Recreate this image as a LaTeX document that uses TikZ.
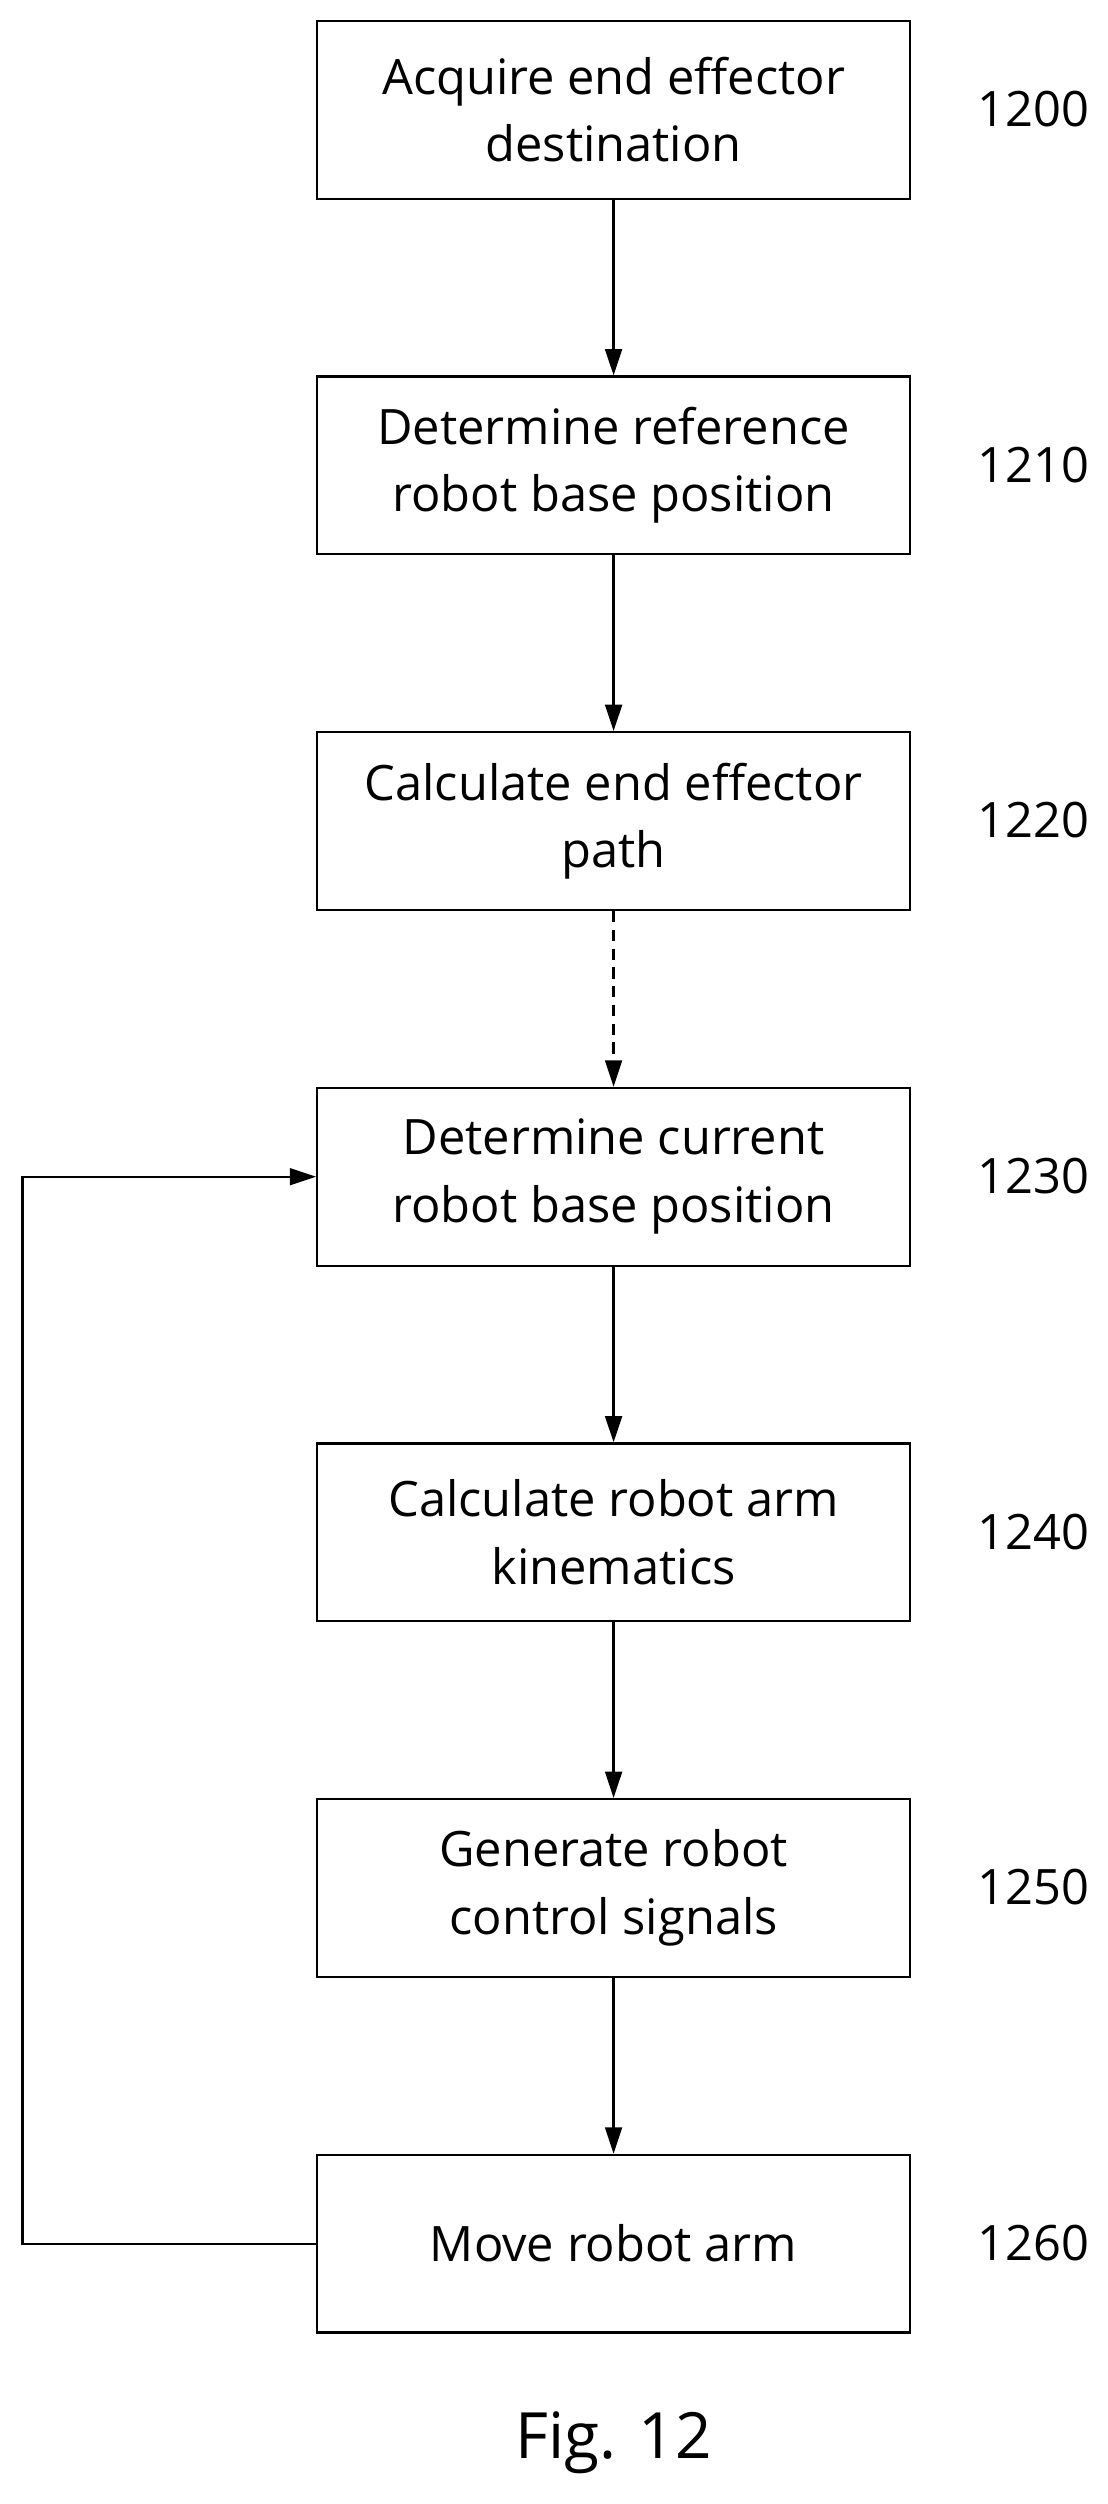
\documentclass[tikz,border=0pt]{standalone}
\usepackage{fontspec}
\setmainfont{Open Sans}
\usetikzlibrary{arrows.meta,positioning}

\begin{document}
\begin{tikzpicture}[x=0.03cm,y=-0.03cm,>={Triangle[length=14pt,width=9pt]},
                    every node/.style={font=\fontsize{26}{36}\selectfont},
                    stepbox/.style={draw,line width=1.2pt,minimum width=370*0.03cm,
                                 minimum height=111*0.03cm,align=center,inner sep=0pt},
                    flow/.style={line width=1.2pt,->}]

% page frame
\useasboundingbox (0,0) rectangle (691,1563);

% Steps
\node[stepbox] (s1200) at (383,68.5)  {Acquire end effector\\destination};
\node[stepbox] (s1210) at (383,290.5) {Determine reference\\robot base position};
\node[stepbox] (s1220) at (383,512.5) {Calculate end effector\\path};
\node[stepbox] (s1230) at (383,734.5) {Determine current\\robot base position};
\node[stepbox] (s1240) at (383,956.5) {Calculate robot arm\\kinematics};
\node[stepbox] (s1250) at (383,1178.5){Generate robot\\control signals};
\node[stepbox] (s1260) at (383,1400.5){Move robot arm};

% Reference numerals
\foreach \n/\y in {1200/68,1210/290,1220/512,1230/734,1240/956,1250/1178,1260/1400}
  \node (n\n) at (645,\y) {\n};

% Arrows
\draw[flow] (s1200) -- (s1210);
\draw[flow] (s1210) -- (s1220);
\draw[flow,dash pattern=on 6pt off 4pt] (s1220) -- (s1230);
\draw[flow] (s1230) -- (s1240);
\draw[flow] (s1240) -- (s1250);
\draw[flow] (s1250) -- (s1260);

% Loop back
\coordinate (loopB) at (14,1400.5);
\coordinate (loopT) at (14,734.5);
\draw[flow] (s1260.west) -- (loopB) -- (loopT) -- (s1230.west);

% Caption
\node[font=\fontsize{34}{40}\selectfont] (fig) at (383,1525) {Fig. 12};

\end{tikzpicture}
\end{document}
